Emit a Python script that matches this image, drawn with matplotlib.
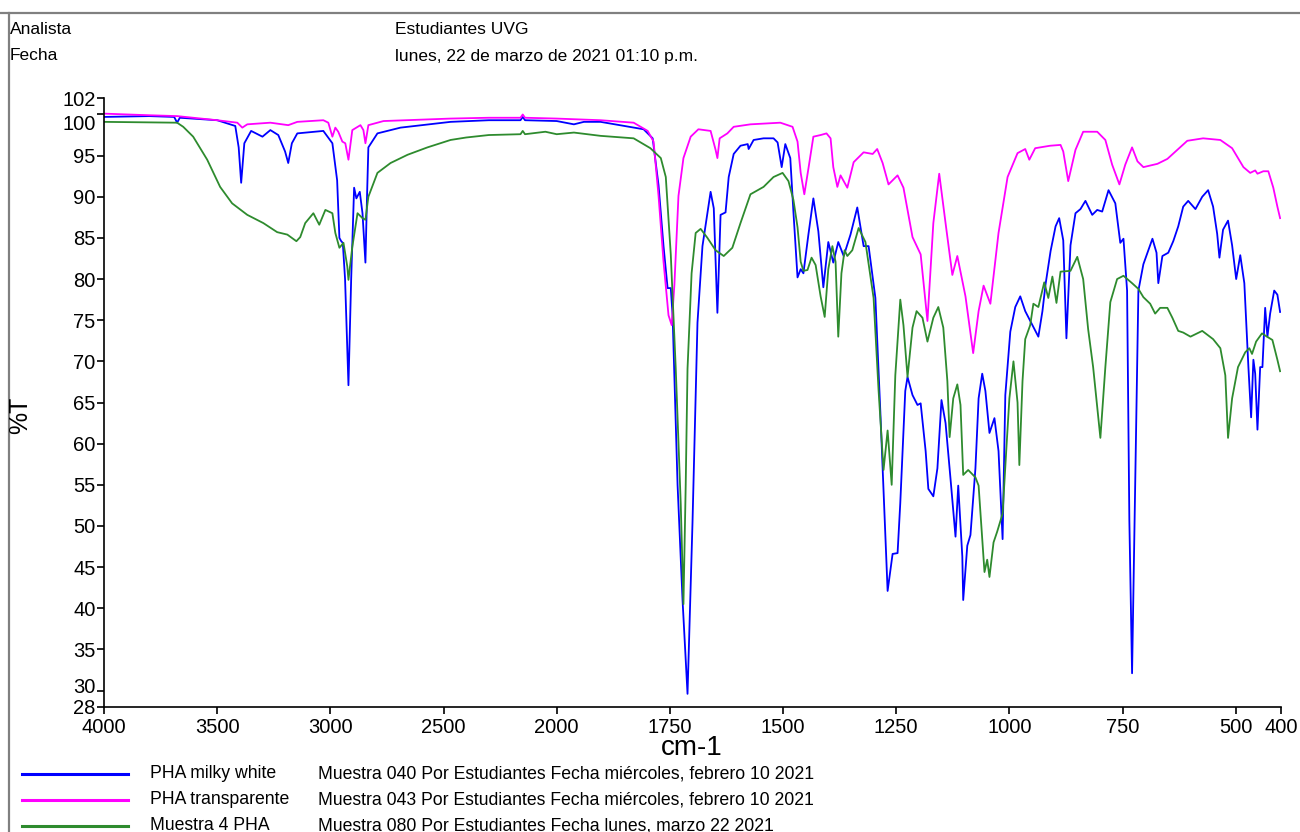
import numpy as np
import matplotlib
matplotlib.use("Agg")
import matplotlib.pyplot as plt
from matplotlib.lines import Line2D
from matplotlib.transforms import ScaledTranslation

plt.rcParams['font.family'] = ['Liberation Sans', 'DejaVu Sans']

# PHA milky white (blue)
wn_milky = [4000, 3800, 3690, 3677, 3665, 3500, 3420, 3405, 3394, 3380, 3350, 3300, 3265, 3230, 3200,
            3186, 3170, 3146, 3031, 2991, 2970, 2960, 2952, 2945, 2935, 2920, 2908, 2895, 2885, 2870,
            2858, 2845, 2838, 2832, 2792, 2690, 2469, 2300, 2160, 2150, 2140, 2000, 1962, 1940, 1903, 1808, 1788,
            1775, 1764, 1755, 1748, 1744, 1733, 1722, 1711, 1700, 1689, 1678, 1669, 1660, 1653, 1645,
            1638, 1627, 1620, 1609, 1594, 1578, 1576, 1565, 1543, 1521, 1512, 1503, 1495, 1484, 1477,
            1468, 1461, 1455, 1444, 1433, 1422, 1411, 1400, 1389, 1378, 1366, 1351, 1336, 1322, 1311,
            1296, 1285, 1269, 1258, 1247, 1241, 1230, 1225, 1214, 1203, 1196, 1185, 1179, 1168, 1159,
            1150, 1141, 1130, 1119, 1113, 1104, 1102, 1093, 1086, 1075, 1068, 1060, 1053, 1044, 1033,
            1024, 1015, 1009, 998, 987, 976, 965, 949, 936, 927, 920, 909, 898, 890, 881,
            874, 865, 854, 843, 832, 817, 806, 795, 781, 766, 755, 748, 740, 735, 729,
            722, 715, 704, 695, 684, 675, 671, 662, 649, 638, 627, 616, 605, 589, 574,
            561, 550, 541, 536, 528, 517, 508, 499, 490, 481, 472, 466, 461, 457, 452,
            446, 441, 435, 430, 424, 415, 408, 402]
t_milky = [99.7, 99.8, 99.7, 99.0, 99.6, 99.3, 98.6, 96.0, 91.7, 96.5, 98.0, 97.3, 98.1, 97.5, 95.5,
           94.1, 96.5, 97.7, 98.0, 96.5, 92.0, 85.0, 84.6, 84.4, 80.0, 67.1, 80.0, 91.1, 89.8, 90.6,
           88.0, 82.0, 90.0, 96.0, 97.7, 98.4, 99.1, 99.3, 99.3, 99.7, 99.3, 99.2, 98.8, 99.1, 99.1, 98.2, 97.1,
           91.4, 84.0, 78.9, 78.9, 75.6, 55.0, 41.0, 29.6, 50.4, 74.7, 84.0, 87.3, 90.6, 88.6, 75.9,
           87.8, 88.1, 92.4, 95.2, 96.2, 96.4, 95.8, 96.9, 97.1, 97.1, 96.6, 93.6, 96.4, 94.7, 88.1,
           80.2, 81.2, 80.7, 85.4, 89.8, 85.8, 79.0, 84.5, 82.0, 84.5, 82.8, 85.4, 88.7, 84.0, 84.0,
           77.7, 63.8, 42.1, 46.6, 46.7, 52.8, 66.4, 68.1, 65.9, 64.7, 64.9, 59.1, 54.5, 53.6, 57.0,
           65.3, 62.5, 55.7, 48.7, 54.9, 46.3, 41.0, 47.6, 48.9, 57.0, 65.5, 68.5, 66.4, 61.3, 63.1,
           59.1, 48.4, 65.9, 73.6, 76.6, 77.9, 76.1, 74.4, 73.0, 76.1, 79.4, 83.4, 86.4, 87.4, 84.7,
           72.8, 84.1, 88.0, 88.5, 89.5, 87.8, 88.4, 88.2, 90.8, 89.2, 84.4, 84.9, 78.6, 50.7, 32.1,
           55.3, 78.6, 81.8, 83.2, 84.9, 83.2, 79.5, 82.8, 83.2, 84.6, 86.4, 88.8, 89.5, 88.5, 90.0,
           90.8, 88.8, 85.5, 82.6, 86.0, 87.1, 84.1, 80.0, 82.9, 79.5, 69.3, 63.2, 70.2, 68.5, 61.7,
           69.3, 69.3, 76.5, 73.0, 75.8, 78.6, 78.1, 76.0]

# PHA transparente (magenta)
wn_transp = [4000, 3796, 3677, 3500, 3411, 3389, 3367, 3265, 3186, 3146, 3031, 3009, 2991, 2978, 2965,
             2947, 2934, 2920, 2903, 2867, 2854, 2845, 2832, 2765, 2469, 2300, 2160, 2150, 2140, 2000,
             1903, 1830, 1799, 1786, 1775, 1764, 1753, 1746, 1740, 1731, 1720, 1704, 1687, 1660, 1649,
             1645, 1640, 1623, 1609, 1572, 1506, 1479, 1468, 1461, 1453, 1444, 1433, 1417, 1404, 1395,
             1389, 1380, 1373, 1358, 1344, 1322, 1302, 1292, 1280, 1267, 1247, 1234, 1214, 1196, 1181,
             1168, 1155, 1141, 1126, 1115, 1097, 1080, 1068, 1057, 1042, 1024, 1004, 982, 965, 956,
             943, 910, 887, 881, 870, 854, 837, 806, 788, 773, 757, 744, 729, 717, 704,
             673, 651, 629, 607, 572, 534, 508, 483, 468, 457, 452, 439, 428, 417, 408, 402]
t_transp = [100.1, 99.9, 99.8, 99.3, 99.0, 98.4, 98.8, 99.0, 98.7, 99.1, 99.3, 99.0, 97.3, 98.4, 97.9,
            96.7, 96.5, 94.5, 98.1, 98.7, 98.1, 96.5, 98.7, 99.2, 99.5, 99.6, 99.6, 100.0, 99.6, 99.5,
            99.3, 99.0, 98.0, 96.7, 90.1, 82.1, 75.6, 74.4, 79.3, 90.1, 94.7, 97.3, 98.2, 98.0, 95.7,
            94.7, 97.1, 97.7, 98.5, 98.8, 99.0, 98.5, 96.7, 92.9, 90.3, 93.4, 97.3, 97.5, 97.7, 97.1,
            93.6, 91.2, 92.6, 91.1, 94.2, 95.4, 95.2, 95.8, 94.1, 91.5, 92.6, 91.1, 85.1, 83.0, 74.9,
            86.8, 92.8, 86.8, 80.5, 82.8, 77.9, 71.0, 76.1, 79.2, 77.0, 85.6, 92.4, 95.3, 95.8, 94.5,
            95.9, 96.2, 96.3, 95.5, 91.9, 95.7, 97.9, 97.9, 96.9, 93.9, 91.5, 93.9, 96.0, 94.3, 93.6,
            94.0, 94.6, 95.7, 96.8, 97.1, 96.9, 95.9, 93.6, 92.9, 93.2, 92.8, 93.1, 93.1, 91.1, 88.8, 87.4]

# Muestra 4 PHA (green)
wn_m4 = [4000, 3677, 3650, 3606, 3544, 3487, 3434, 3367, 3296, 3235, 3190, 3150, 3133, 3111, 3075,
         3049, 3022, 2991, 2978, 2960, 2942, 2925, 2920, 2903, 2880, 2858, 2845, 2832, 2792, 2734,
         2659, 2571, 2469, 2400, 2300, 2160, 2150, 2140, 2050, 2000, 1962, 1903, 1830, 1793, 1770, 1759, 1748,
         1737, 1726, 1720, 1715, 1711, 1702, 1693, 1682, 1667, 1649, 1631, 1612, 1594, 1572, 1543,
         1521, 1501, 1488, 1477, 1468, 1461, 1455, 1446, 1437, 1428, 1417, 1408, 1400, 1391, 1384,
         1378, 1371, 1364, 1358, 1347, 1333, 1318, 1300, 1289, 1278, 1269, 1260, 1252, 1241, 1234,
         1225, 1214, 1205, 1192, 1181, 1168, 1157, 1146, 1137, 1132, 1124, 1115, 1108, 1102, 1091,
         1075, 1068, 1060, 1055, 1049, 1044, 1035, 1027, 1015, 1007, 1000, 991, 982, 978, 971,
         965, 954, 947, 936, 923, 914, 905, 896, 887, 865, 850, 837, 826, 815, 799,
         788, 777, 762, 748, 729, 715, 704, 689, 678, 667, 651, 640, 627, 616, 600,
         574, 550, 534, 523, 517, 508, 495, 479, 470, 464, 455, 442, 431, 419, 408, 402]
t_m4 = [99.1, 99.0, 98.5, 97.3, 94.5, 91.2, 89.2, 87.8, 86.8, 85.7, 85.4, 84.6, 85.1, 86.8, 88.0,
        86.6, 88.4, 88.0, 85.6, 83.8, 84.4, 81.5, 79.9, 83.9, 88.0, 87.4, 87.2, 90.0, 92.9, 94.1,
        95.1, 96.0, 96.9, 97.2, 97.5, 97.6, 98.0, 97.6, 97.9, 97.6, 97.8, 97.4, 97.1, 95.9, 94.7, 92.4, 83.0,
        69.1, 52.7, 40.5, 55.0, 69.1, 80.7, 85.6, 86.1, 85.0, 83.5, 82.8, 83.8, 86.8, 90.3, 91.2,
        92.4, 92.9, 91.9, 89.6, 86.3, 82.1, 81.0, 81.1, 82.6, 81.7, 77.9, 75.4, 81.2, 84.0, 82.1,
        73.0, 80.7, 83.5, 82.8, 83.5, 86.2, 84.5, 77.7, 66.5, 56.8, 61.6, 55.0, 68.3, 77.5, 74.4,
        68.1, 74.1, 76.1, 75.3, 72.4, 75.3, 76.6, 74.1, 67.6, 60.8, 65.5, 67.2, 64.7, 56.2, 56.8,
        55.9, 54.9, 48.4, 44.4, 45.9, 43.8, 48.0, 49.3, 51.5, 59.1, 65.5, 70.0, 65.0, 57.4, 67.6,
        72.7, 74.4, 77.0, 76.6, 79.6, 77.7, 80.3, 77.1, 80.9, 81.0, 82.7, 80.0, 73.9, 69.3, 60.7,
        69.3, 77.2, 80.0, 80.4, 79.5, 78.8, 77.8, 77.0, 75.8, 76.5, 76.5, 75.3, 73.7, 73.5, 73.0,
        73.7, 72.7, 71.6, 68.3, 60.7, 65.5, 69.3, 71.1, 71.6, 70.9, 72.4, 73.4, 73.0, 72.6, 70.2, 68.8]

names = ["PHA milky white", "PHA transparente", "Muestra 4 PHA"]
notes = ["Muestra 040 Por Estudiantes Fecha miércoles, febrero 10 2021",
         "Muestra 043 Por Estudiantes Fecha miércoles, febrero 10 2021",
         "Muestra 080 Por Estudiantes Fecha lunes, marzo 22 2021"]
colors = ["#0000ff", "#ff00ff", "#2e8b2e"]
xticks = [4000, 3500, 3000, 2500, 2000, 1750, 1500, 1250, 1000, 750, 500, 400]
yticks = [28, 30, 35, 40, 45, 50, 55, 60, 65, 70, 75, 80, 85, 90, 95, 100, 102]


# axis below 2000 cm-1 is drawn at double scale
def fwd(x):
    x = np.asarray(x, dtype=float)
    return np.where(x <= 2000, 2 * x, x + 2000)


def inv(t):
    t = np.asarray(t, dtype=float)
    return np.where(t <= 4000, t / 2, t - 2000)


fig = plt.figure(figsize=(13, 8.32), dpi=100)
ax = fig.add_axes([104 / 1300, 1 - 707 / 832, 1177 / 1300, 609 / 832])
ax.set_xscale('function', functions=(fwd, inv))

series = [(wn_milky, t_milky), (wn_transp, t_transp), (wn_m4, t_m4)]
for (wn, t), c in zip(series, colors):
    ax.plot(wn, t, color=c, lw=1.3)

ax.set_xlim(4000, 400)
ax.set_ylim(28, 102)
ax.set_xticks(xticks)
ax.set_xticklabels([str(v) for v in xticks])
ax.set_yticks(yticks)
ax.set_yticklabels([str(v) for v in yticks])
ax.minorticks_off()
ax.tick_params(direction='out', length=5, width=1.2, labelsize=14.5, pad=1)
ax.tick_params(axis='x', pad=3)
for s in ['top', 'right']:
    ax.spines[s].set_visible(False)
for s in ['left', 'bottom']:
    ax.spines[s].set_linewidth(1.2)

# crowded labels next to the axis ends are nudged apart
for lab in ax.get_yticklabels():
    if lab.get_text() == '100':
        lab.set_transform(lab.get_transform() + ScaledTranslation(0, -0.08, fig.dpi_scale_trans))
    elif lab.get_text() == '30':
        lab.set_transform(lab.get_transform() + ScaledTranslation(0, 0.05, fig.dpi_scale_trans))

fig.text(692 / 1300, 1 - 748 / 832, "cm-1", fontsize=20, ha='center', va='center')
fig.text(20 / 1300, 1 - 415 / 832, "%T", fontsize=18, rotation=90, ha='center', va='center')

# header
fig.text(10 / 1300, 1 - 30 / 832, "Analista", fontsize=12.5, va='center')
fig.text(10 / 1300, 1 - 56 / 832, "Fecha", fontsize=12.5, va='center')
fig.text(395 / 1300, 1 - 30 / 832, "Estudiantes UVG", fontsize=12.5, va='center')
fig.text(395 / 1300, 1 - 56 / 832, "lunes, 22 de marzo de 2021 01:10 p.m.", fontsize=12.5, va='center')

# frame lines
fig.add_artist(Line2D([0, 1], [1 - 13 / 832] * 2, color='#808080', lw=1.6))
fig.add_artist(Line2D([9 / 1300] * 2, [0, 1 - 13 / 832], color='#808080', lw=1.6))

# legend block
for i, (n, d, c) in enumerate(zip(names, notes, colors)):
    y = 1 - (774 + 26 * i) / 832
    fig.add_artist(Line2D([22 / 1300, 128 / 1300], [y, y], color=c, lw=2.2))
    fig.text(150 / 1300, y, n, fontsize=12.7, va='center')
    fig.text(318 / 1300, y, d, fontsize=12.7, va='center')

fig.savefig("out.png", dpi=100)
